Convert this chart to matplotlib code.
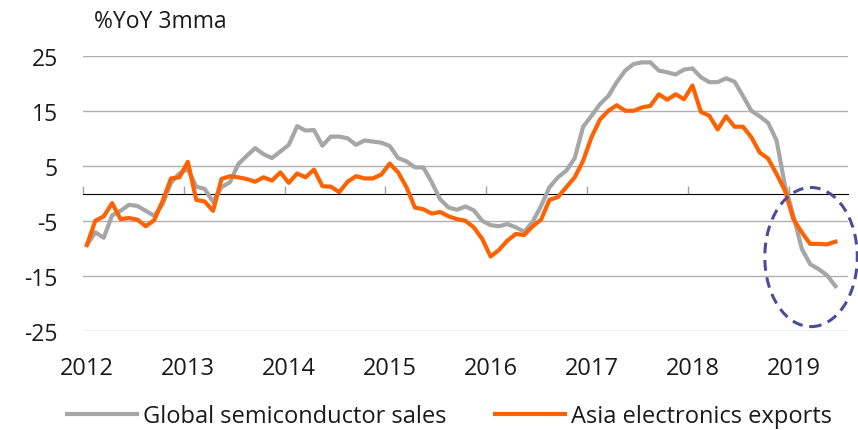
import matplotlib
matplotlib.use("Agg")
import matplotlib.pyplot as plt
from matplotlib.patches import Ellipse

plt.rcParams['font.family'] = ['Open Sans', 'DejaVu Sans']
plt.rcParams['axes.unicode_minus'] = False

# monthly data, Jan 2012 - Jun 2019 (%YoY 3mma)
years = [2012, 2013, 2014, 2015, 2016, 2017, 2018, 2019]
semis = [
    -9.3, -7.0, -8.0, -3.9, -3.1, -2.0, -2.2, -3.1, -4.0, -1.9, 2.0, 3.7,
    4.5, 1.3, 0.9, -1.5, 1.2, 2.1, 5.4, 6.9, 8.3, 7.2, 6.5, 7.7,
    8.9, 12.3, 11.5, 11.6, 8.75, 10.4, 10.4, 10.1, 8.9, 9.7, 9.5, 9.3,
    8.7, 6.5, 5.9, 4.8, 4.8, 2.1, -1.0, -2.5, -2.9, -2.3, -3.0, -4.9,
    -5.7, -5.9, -5.5, -6.1, -6.9, -5.1, -2.2, 1.2, 3.0, 4.2, 6.5, 12.2,
    14.2, 16.3, 17.8, 20.3, 22.4, 23.6, 23.9, 23.9, 22.4, 22.1, 21.7, 22.6,
    22.8, 21.2, 20.3, 20.3, 21.0, 20.4, 17.8, 15.1, 14.1, 12.9, 9.7, 1.5,
    -4.0, -10.0, -12.8, -13.7, -14.8, -16.8,
]
asia = [
    -9.3, -4.9, -4.1, -1.7, -4.6, -4.4, -4.7, -5.9, -4.8, -1.3, 2.8, 3.0,
    5.8, -1.1, -1.4, -3.1, 2.7, 3.2, 3.0, 2.7, 2.2, 3.0, 2.4, 3.9,
    2.0, 3.7, 3.0, 4.4, 1.4, 1.3, 0.3, 2.2, 3.2, 2.8, 2.8, 3.5,
    5.5, 3.9, 1.2, -2.5, -2.8, -3.6, -3.3, -4.1, -4.6, -4.9, -6.1, -8.2,
    -11.4, -10.2, -8.5, -7.3, -7.5, -5.9, -4.7, -1.1, -0.6, 1.2, 3.0, 6.0,
    10.3, 13.5, 15.1, 16.1, 15.1, 15.1, 15.7, 16.0, 18.1, 17.1, 18.1, 17.2,
    19.7, 14.9, 14.2, 11.7, 14.1, 12.2, 12.2, 10.3, 7.5, 6.4, 3.6, 0.6,
    -4.6, -7.0, -9.1, -9.1, -9.2, -8.7,
]
yticks = [-25, -15, -5, 5, 15, 25]

# highlight ellipse (month index, value, width in months, height)
ell_center = (86.1, -11.5)
ell_w, ell_h = 11.0, 25.3

GREY = "#A6A6A6"
ORANGE = "#FF6200"
TXT = "#1a1a1a"

fig = plt.figure(figsize=(8.58, 4.31), dpi=100)
ax = fig.add_axes([0.0964, 0.229, 0.892, 0.638])

x = list(range(len(semis)))
ax.plot(x, semis, color=GREY, lw=3, label="Global semiconductor sales", solid_joinstyle="round")
ax.plot(x, asia, color=ORANGE, lw=3, label="Asia electronics exports", solid_joinstyle="round")

ax.add_patch(Ellipse(ell_center, ell_w, ell_h, fill=False, ec="#4C4B9C", lw=2.2,
                     ls=(0, (3.5, 2.2)), clip_on=False, zorder=5))

ax.set_xlim(-0.5, 90.5)
ax.set_ylim(-25, 25)
ax.set_yticks(yticks)
ax.grid(axis="y", color="#B0B0B0", lw=1)
ax.set_axisbelow(True)
for s in ax.spines.values():
    s.set_visible(False)

ax.set_xticks([12 * k for k in range(len(years))])
ax.set_xticklabels([str(y) for y in years])
ax.tick_params(axis="x", length=0, pad=18, labelsize=17, labelcolor=TXT)
ax.tick_params(axis="y", length=0, pad=18, labelsize=16.5, labelcolor=TXT)

# zero line with year separators
sec = ax.secondary_xaxis(0.5)
sec.set_xticks([12 * k - 0.5 for k in range(len(years))])
sec.set_xticklabels([])
sec.tick_params(axis="x", direction="out", length=6, width=1, color="#A0A0A0")
sec.spines["bottom"].set_color("#A0A0A0")
sec.spines["bottom"].set_linewidth(1)

fig.text(94 / 858, 1 - 22.5 / 431, "%YoY 3mma", fontsize=16.5, color=TXT, va="center", ha="left")

fig.legend(loc="center", bbox_to_anchor=(0.524, 0.033), ncol=2, frameon=False,
           fontsize=17, handlelength=2.96, handletextpad=0.25, columnspacing=2.08,
           labelcolor=TXT)

fig.savefig("out.png", dpi=100)
